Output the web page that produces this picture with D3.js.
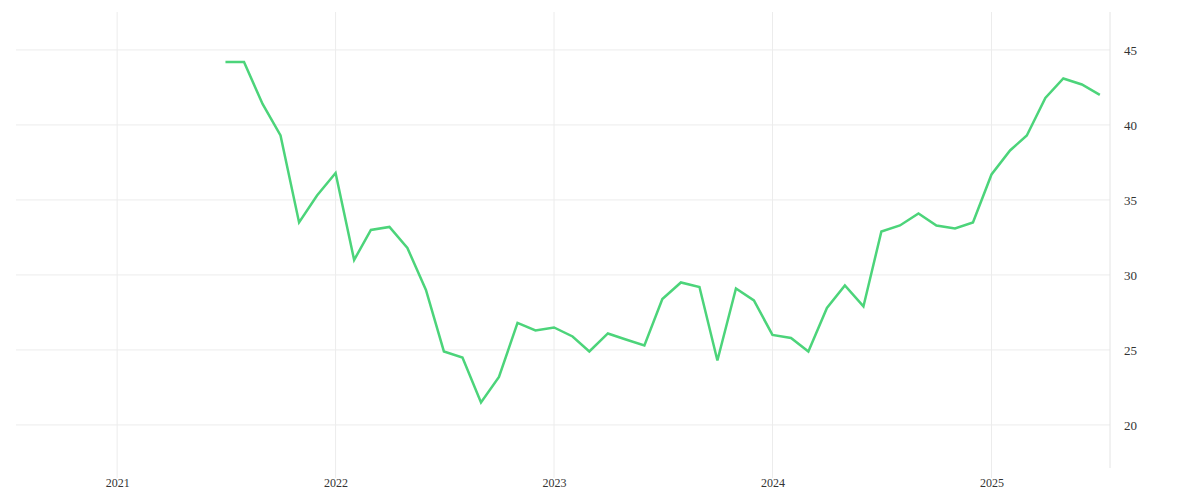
<!DOCTYPE html>
<html><head><meta charset="utf-8">
<script src="https://cdn.jsdelivr.net/npm/d3@7"></script>
<style>body{margin:0;background:#fff}text{font-family:"Liberation Serif","DejaVu Serif",serif;font-size:12px;fill:#333}</style>
</head><body><svg id="c" width="1200" height="500"></svg>
<script>
const startMonth = "2021-07";
const values = [44.2,44.2,41.4,39.3,33.5,35.3,36.8,31.0,33.0,33.2,31.8,29.0,24.9,24.5,21.5,23.2,26.8,26.3,26.5,25.9,24.9,26.1,25.7,25.3,28.4,29.5,29.2,24.3,29.1,28.3,26.0,25.8,24.9,27.8,29.3,27.9,32.9,33.3,34.1,33.3,33.1,33.5,36.7,38.3,39.3,41.8,43.1,42.7,42.0];
const yTicks = [20,25,30,35,40,45];
const xTickYears = [2021,2022,2023,2024,2025];

const svg = d3.select("#c");
const L=16,R=1110,T=12,B=468;
const x = d3.scaleTime().domain([new Date(2020,6,16),new Date(2025,6,18)]).range([L,R]);
const y = d3.scaleLinear().domain([17.13,47.53]).range([B,T]);
const p = d3.timeParse("%Y-%m")(startMonth);
const data = values.map((v,i)=>({d:d3.timeMonth.offset(p,i),v}));

const g = svg.append("g");
g.selectAll(".hg").data(yTicks).join("line").attr("x1",L).attr("x2",R).attr("y1",d=>y(d)).attr("y2",d=>y(d)).attr("stroke","#ececec");
g.selectAll(".vg").data(xTickYears).join("line").attr("x1",d=>x(new Date(d,0,1))).attr("x2",d=>x(new Date(d,0,1))).attr("y1",T).attr("y2",478).attr("stroke","#ececec");
g.append("line").attr("x1",R).attr("x2",R).attr("y1",T).attr("y2",B).attr("stroke","#e4e4e4");

const ya = d3.axisRight(y).tickValues(yTicks).tickSize(0).tickPadding(14);
svg.append("g").attr("transform",`translate(${R},0)`).call(ya).call(a=>a.select(".domain").remove()).selectAll("text").style("font-size","13px");
const xa = d3.axisBottom(x).tickValues(xTickYears.map(d=>new Date(d,0,1))).tickFormat(d3.timeFormat("%Y")).tickSize(0).tickPadding(10);
svg.append("g").attr("transform",`translate(0,${B})`).call(xa).call(a=>a.select(".domain").remove());

svg.append("path").datum(data).attr("fill","none").attr("stroke","#4cd47a").attr("stroke-width",2.5)
 .attr("d",d3.line().x(d=>x(d.d)).y(d=>y(d.v)));
</script></body></html>
